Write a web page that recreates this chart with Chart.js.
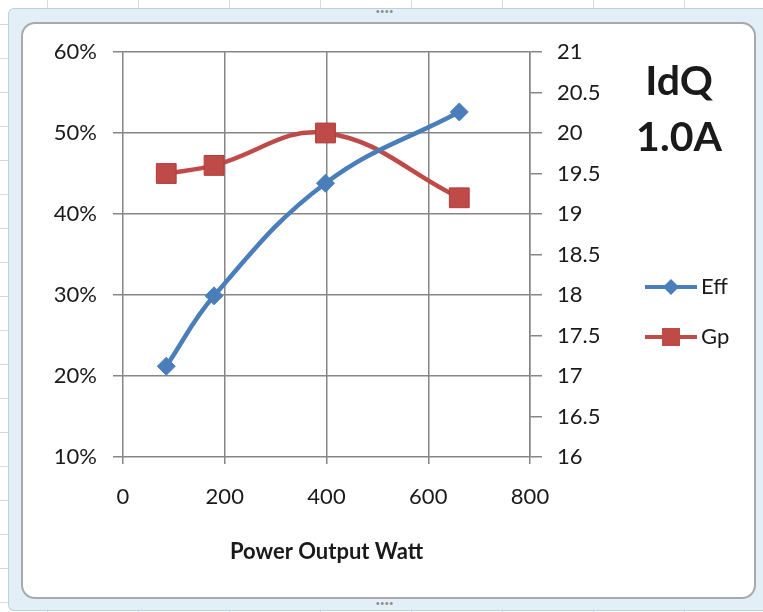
<!DOCTYPE html>
<html>
<head>
<meta charset="utf-8">
<script src="https://cdn.jsdelivr.net/npm/chart.js@4/dist/chart.umd.min.js"></script>
<style>
  html, body { margin: 0; padding: 0; }
  body {
    width: 763px; height: 612px; position: relative; overflow: hidden;
    background-color: #ffffff;
    background-image:
      repeating-linear-gradient(to right, transparent 0, transparent 47px, #d9d9d9 47px, #d9d9d9 48px, transparent 48px, transparent 91px),
      repeating-linear-gradient(to bottom, transparent 0, transparent 24px, #d9d9d9 24px, #d9d9d9 25px, transparent 25px, transparent 34px);
  }
  #band {
    position: absolute; left: 8px; top: 8px; width: 755px; height: 603px;
    box-sizing: border-box; background: #e2eff6; border: 1px solid #b9d3e2;
    border-right: none; border-radius: 6px 0 0 6px;
  }
  #inner {
    position: absolute; left: 21px; top: 22px; width: 735px; height: 577px;
    box-sizing: border-box; background: #ffffff; border: 2px solid #a9a9a9;
    border-radius: 14px;
  }
  .dots { position: absolute; color: #888; font: 10px sans-serif; letter-spacing: 1px; }
  canvas { position: absolute; left: 0; top: 0; }
</style>
</head>
<body>
<div id="band"></div>
<div id="inner"></div>
<div class="dots" style="left:376px;top:6px;">••••</div>
<div class="dots" style="left:376px;top:598px;">••••</div>
<canvas id="c" width="763" height="612"></canvas>
<script>
const powerEff = [85, 179, 398, 661];
const effValues = [0.212, 0.299, 0.438, 0.526];
const powerGp = [85, 179, 398, 661];
const gpValues = [19.5, 19.6, 20.0, 19.2];
const xTicks = [0, 200, 400, 600, 800];
const seriesNames = ['Eff', 'Gp'];
const titleLines = ['IdQ', '1.0A'];
const xTitle = 'Power Output Watt';

const BLUE = '#4a7ebb';
const RED = '#be4b48';
const GRID = '#868686';
const TXT = '#1a1a1a';
const FONT = 'Lato, "Open Sans", sans-serif';

const effData = powerEff.map((x, i) => ({x: x, y: effValues[i]}));
const gpData = powerGp.map((x, i) => ({x: x, y: gpValues[i]}));

const sidePlugin = {
  id: 'side',
  afterDraw(chart) {
    const ctx = chart.ctx;
    ctx.save();
    ctx.fillStyle = TXT;
    ctx.textAlign = 'center';
    ctx.textBaseline = 'middle';
    ctx.font = 'bold 41px ' + FONT;
    ctx.fillText(titleLines[0], 679, 82);
    ctx.fillText(titleLines[1], 679, 138);

    const items = [
      {name: seriesNames[0], color: BLUE, y: 287, shape: 'diamond'},
      {name: seriesNames[1], color: RED, y: 337, shape: 'square'}
    ];
    items.forEach(it => {
      ctx.strokeStyle = it.color;
      ctx.lineWidth = 4;
      ctx.beginPath();
      ctx.moveTo(645, it.y);
      ctx.lineTo(697, it.y);
      ctx.stroke();
      ctx.fillStyle = it.color;
      ctx.beginPath();
      if (it.shape === 'diamond') {
        ctx.moveTo(671, it.y - 8); ctx.lineTo(679, it.y); ctx.lineTo(671, it.y + 8); ctx.lineTo(663, it.y);
        ctx.closePath();
      } else {
        ctx.rect(662, it.y - 9, 18, 18);
      }
      ctx.fill();
      ctx.fillStyle = TXT;
      ctx.textAlign = 'left';
      ctx.font = '22px ' + FONT;
      ctx.fillText(it.name, 701, it.y);
    });
    ctx.restore();
  }
};

new Chart(document.getElementById('c'), {
  type: 'scatter',
  data: {
    datasets: [
      {
        label: seriesNames[0], data: effData, yAxisID: 'y', showLine: true,
        borderColor: BLUE, backgroundColor: BLUE, borderWidth: 4.5, tension: 0.4,
        pointStyle: 'rectRot', pointRadius: 9, pointHoverRadius: 9,
        pointBorderColor: BLUE, pointBackgroundColor: BLUE, pointBorderWidth: 1
      },
      {
        label: seriesNames[1], data: gpData, yAxisID: 'y1', showLine: true,
        borderColor: RED, backgroundColor: RED, borderWidth: 4.5, tension: 0.4,
        pointStyle: 'rect', pointRadius: 14, pointHoverRadius: 14,
        pointBorderColor: '#b03c3a', pointBackgroundColor: RED, pointBorderWidth: 1
      }
    ]
  },
  options: {
    responsive: false,
    animation: false,
    layout: { padding: { left: 0, right: 0, top: 52, bottom: 47 } },
    plugins: { legend: { display: false }, title: { display: false }, tooltip: { enabled: false } },
    scales: {
      x: {
        type: 'linear', min: 0, max: 800,
        afterBuildTicks: (s) => { s.ticks = xTicks.map(v => ({value: v})); },
        afterFit: (s) => { s.height = 108; },
        grid: { color: GRID, lineWidth: 1.5, tickLength: 7, drawTicks: true },
        border: { display: false },
        ticks: { color: TXT, font: { family: FONT, size: 22 }, padding: 20, maxRotation: 0 },
        title: { display: true, text: xTitle, color: TXT, font: { family: FONT, size: 22, weight: 'bold' }, padding: { top: 0, bottom: 0 } }
      },
      y: {
        type: 'linear', position: 'left', min: 0.1, max: 0.6,
        afterFit: (s) => { s.width = 123; },
        grid: { color: GRID, lineWidth: 1.5, tickLength: 10 },
        border: { display: false },
        ticks: { stepSize: 0.1, color: TXT, font: { family: FONT, size: 22 }, padding: 16,
          callback: (v) => Math.round(v * 100) + '%' }
      },
      y1: {
        type: 'linear', position: 'right', min: 16, max: 21,
        afterFit: (s) => { s.width = 233; },
        grid: { drawOnChartArea: false, color: GRID, lineWidth: 1.5, tickLength: 12 },
        border: { display: true, color: GRID, width: 1.5 },
        ticks: { stepSize: 0.5, color: TXT, font: { family: FONT, size: 22 }, padding: 15,
          callback: (v) => String(Math.round(v * 10) / 10) }
      }
    }
  },
  plugins: [sidePlugin]
});
</script>
</body>
</html>
